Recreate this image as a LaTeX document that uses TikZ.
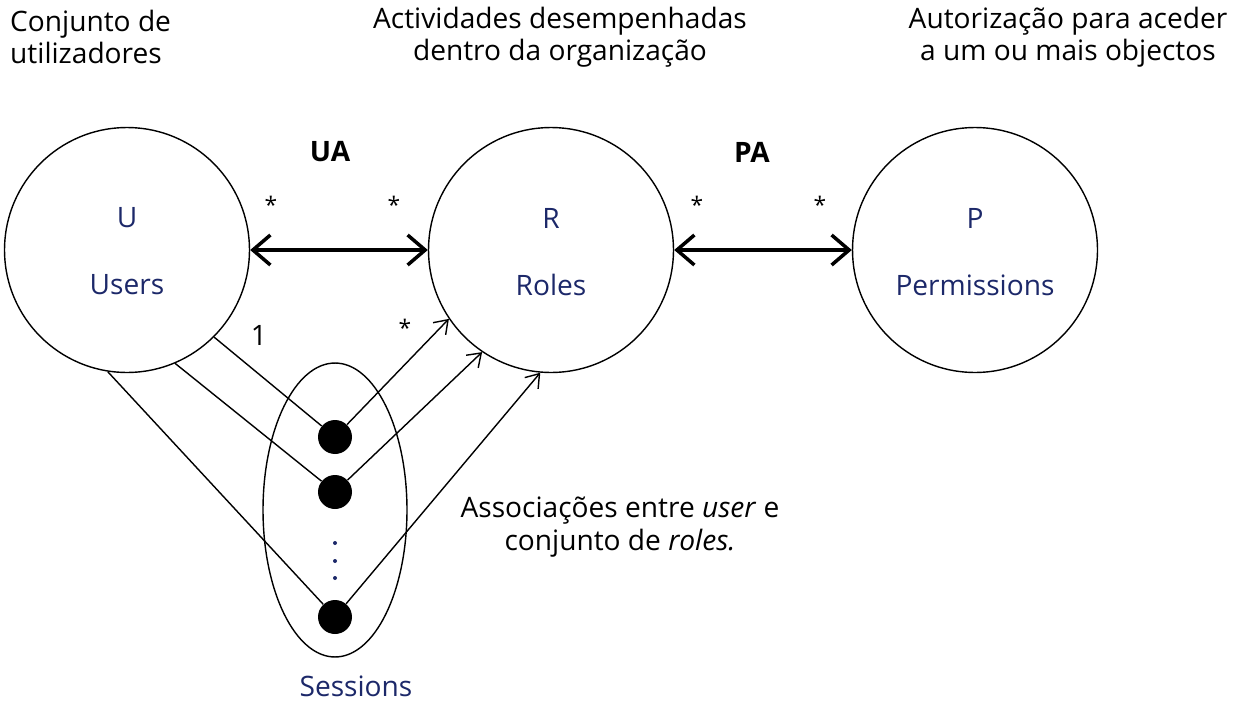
\documentclass[tikz,border=0pt]{standalone}
\usepackage{fontspec}
\setmainfont{Open Sans}
\usetikzlibrary{arrows.meta, positioning, shapes.geometric}

\definecolor{setblue}{RGB}{28,40,105}

\tikzset{
  setnode/.style={circle, draw, line width=0.8pt, minimum size=4.9cm},
  dotnode/.style={circle, fill=black, inner sep=0pt, minimum size=0.68cm},
  smalldot/.style={circle, fill=setblue, inner sep=0pt, minimum size=0.08cm},
  inlbl/.style={text=setblue, font=\fontsize{16}{19}\selectfont},
  toplbl/.style={font=\fontsize{16}{18.3}\selectfont, align=center},
  mult/.style={font=\fontsize{13}{15}\selectfont},
  relname/.style={font=\bfseries\fontsize{16}{18}\selectfont},
  biarrow/.style={line width=2pt, {Straight Barb[length=3.5mm, width=6mm]}-{Straight Barb[length=3.5mm, width=6mm]}},
  link/.style={line width=0.8pt},
  linkarrow/.style={line width=0.8pt, -{Straight Barb[length=2.5mm, width=3.5mm]}}
}

\begin{document}
\begin{tikzpicture}[x=0.02cm, y=-0.02cm]
\useasboundingbox (0,0) rectangle (1234,703);

% conjuntos
\node[setnode] (U) at (127,250) {};
\node[setnode] (R) at (551,250) {};
\node[setnode] (P) at (975,250) {};

\node[inlbl] (Uletter) at (127,218) {U};
\node[inlbl] (Uname) at (127,285) {Users};
\node[inlbl] (Rletter) at (551,218) {R};
\node[inlbl] (Rname) at (551,285) {Roles};
\node[inlbl] (Pletter) at (975,218) {P};
\node[inlbl] (Pname) at (975,285) {Permissions};

% legendas de topo
\node[toplbl, align=left, anchor=west] (Udesc) at (4,37) {Conjunto de\\utilizadores};
\node[toplbl] (Rdesc) at (560,37) {Actividades desempenhadas\\dentro da organização};
\node[toplbl] (Pdesc) at (1068,37) {Autorização para aceder\\a um ou mais objectos};

% relacoes UA e PA
\draw[biarrow] (U) -- (R);
\draw[biarrow] (R) -- (P);
\node[relname] (UA) at (330,152) {UA};
\node[relname] (PA) at (752,152) {PA};
\node[mult] (UAs1) at (271,205) {*};
\node[mult] (UAs2) at (394,205) {*};
\node[mult] (PAs1) at (697,205) {*};
\node[mult] (PAs2) at (820,205) {*};

% sessoes
\node[draw, ellipse, line width=0.8pt, minimum width=2.88cm, minimum height=5.88cm] (S) at (335,510) {};
\node[dotnode] (s1) at (335,437) {};
\node[dotnode] (s2) at (335,492) {};
\node[dotnode] (s3) at (335,617) {};
\foreach \y/\n in {543/a, 561/b, 578/c}
  \node[smalldot] (vd\n) at (335,\y) {};
\node[inlbl] (Sname) at (356,686) {Sessions};

\draw[link] (U.-45) -- (s1);
\draw[link] (U.-67) -- (s2);
\draw[link] (U.-99) -- (s3);
\draw[linkarrow] (s1) -- (R.214);
\draw[linkarrow] (s2) -- (R.236);
\draw[linkarrow] (s3) -- (R.265);

\node[font=\fontsize{16}{18}\selectfont] (one) at (259,335) {1};
\node[mult] (ses) at (405,328) {*};

\node[toplbl] (assoc) at (620,527) {Associações entre \textit{user} e\\conjunto de \textit{roles.}};
\end{tikzpicture}
\end{document}
